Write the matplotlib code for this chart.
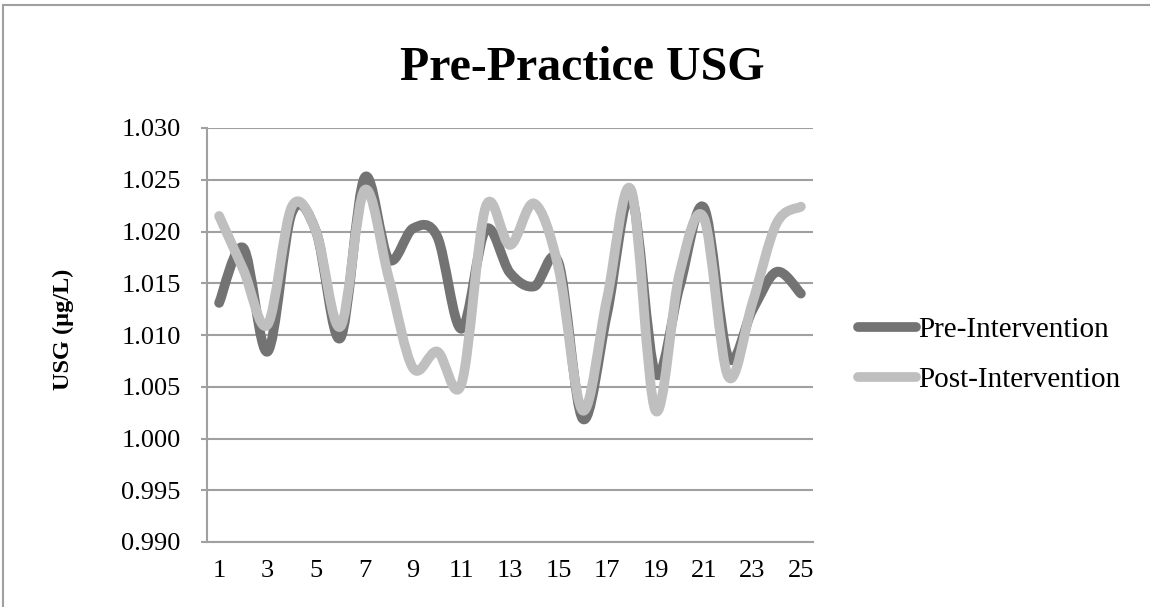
import numpy as np
import matplotlib; matplotlib.use("Agg")
import matplotlib.pyplot as plt
from matplotlib.path import Path
from matplotlib.patches import PathPatch
from matplotlib.lines import Line2D

TITLE = "Pre-Practice USG"
YLABEL = "USG (µg/L)"
sessions = list(range(1, 26))
pre = [1.0131, 1.0184, 1.0084, 1.0218, 1.0200, 1.0097, 1.0252, 1.0173, 1.0203, 1.0195,
       1.0106, 1.0202, 1.0160, 1.0147, 1.0170, 1.0019, 1.0120, 1.0234, 1.0063, 1.0147,
       1.0223, 1.0079, 1.0124, 1.0161, 1.0140]
post = [1.0215, 1.0163, 1.0110, 1.0224, 1.0200, 1.0108, 1.0240, 1.0155, 1.0068, 1.0084,
        1.0053, 1.0224, 1.0187, 1.0227, 1.0165, 1.0027, 1.0135, 1.0240, 1.0027, 1.0160,
        1.0213, 1.0060, 1.0131, 1.0208, 1.0224]
labels = ["Pre-Intervention", "Post-Intervention"]
colors = ["#737373", "#bfbfbf"]
yticks = [0.990, 0.995, 1.000, 1.005, 1.010, 1.015, 1.020, 1.025, 1.030]

plt.rcParams["font.family"] = ["Liberation Serif", "DejaVu Serif"]


def smooth_path(x, y):
    # Excel-style smoothed line: cubic bezier through every point (catmull-rom)
    p = np.column_stack([x, y]).astype(float)
    n = len(p)
    verts, codes = [p[0]], [Path.MOVETO]
    for i in range(n - 1):
        p0 = p[i - 1] if i > 0 else p[i]
        p3 = p[i + 2] if i + 2 < n else p[i + 1]
        c1 = p[i] + (p[i + 1] - p0) / 6
        c2 = p[i + 1] - (p3 - p[i]) / 6
        verts += [c1, c2, p[i + 1]]
        codes += [Path.CURVE4] * 3
    return Path(verts, codes)


fig = plt.figure(figsize=(11.5, 6.07), dpi=100)
ax = fig.add_axes([207 / 1150, 1 - 542 / 607, 606 / 1150, 414 / 607])

lw = 7
for ys, c in zip([pre, post], colors):
    ax.add_patch(PathPatch(smooth_path(sessions, ys), fill=False, ec=c, lw=lw,
                           capstyle="round", joinstyle="round"))

ax.set_xlim(0.5, 25.5)
ax.set_ylim(0.990, 1.030)
ax.set_yticks(yticks)
ax.set_yticklabels([f"{v:.3f}" for v in yticks])
ax.set_xticks(sessions[::2])
ax.grid(True, axis="y", color="#a0a0a0", lw=1.5)
ax.set_axisbelow(True)
for s in ["top", "right"]:
    ax.spines[s].set_visible(False)
for s in ["left", "bottom"]:
    ax.spines[s].set_color("#a0a0a0")
    ax.spines[s].set_linewidth(1.5)
ax.tick_params(axis="y", length=4, color="#a0a0a0", width=1.5, pad=15, labelsize=19)
ax.tick_params(axis="x", length=0, pad=13, labelsize=19)

handles = [Line2D([], [], color=c, lw=lw, solid_capstyle="round") for c in colors]
fig.legend(handles, labels, loc="center left", bbox_to_anchor=(858 / 1150, 1 - 355 / 607),
           frameon=False, fontsize=21, handlelength=2.0, handletextpad=0.08,
           labelspacing=0.8, borderpad=0, borderaxespad=0)

fig.text(582 / 1150, 1 - 80 / 607, TITLE, ha="center", va="baseline",
         fontsize=34.5, fontweight="bold")
fig.text(63 / 1150, 1 - 329 / 607, YLABEL, ha="center", va="center", rotation=90,
         fontsize=17.5, fontweight="bold")

# chart area border (only top and left edges fall inside the picture)
fig.add_artist(Line2D([3 / 1150, 1], [1 - 5 / 607] * 2, color="#a0a0a0", lw=1.5))
fig.add_artist(Line2D([3 / 1150] * 2, [0, 1 - 5 / 607], color="#a0a0a0", lw=1.5))

fig.savefig("out.png", dpi=100)
